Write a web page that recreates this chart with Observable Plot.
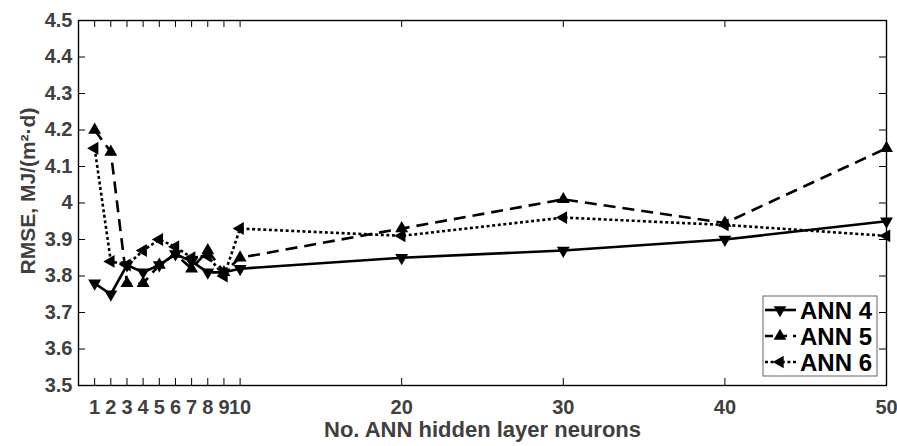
<!DOCTYPE html>
<html>
<head>
<meta charset="utf-8">
<script src="https://cdn.jsdelivr.net/npm/d3@7"></script>
<script src="https://cdn.jsdelivr.net/npm/@observablehq/plot@0.6"></script>
<style>
  html, body { margin: 0; padding: 0; background: #fff; }
  svg { display: block; }
</style>
</head>
<body>
<div id="chart"></div>
<script>
const neurons = [1, 2, 3, 4, 5, 6, 7, 8, 9, 10, 20, 30, 40, 50];
const ann4 = [3.78, 3.75, 3.83, 3.81, 3.83, 3.86, 3.84, 3.81, 3.81, 3.82, 3.85, 3.87, 3.90, 3.95];
const ann5 = [4.20, 4.14, 3.78, 3.78, 3.83, 3.86, 3.82, 3.87, 3.81, 3.85, 3.93, 4.01, 3.945, 4.15];
const ann6 = [4.15, 3.84, 3.83, 3.87, 3.90, 3.88, 3.85, 3.855, 3.80, 3.93, 3.91, 3.96, 3.94, 3.91];
const seriesNames = ["ANN 4", "ANN 5", "ANN 6"];
const xTicks = [1, 2, 3, 4, 5, 6, 7, 8, 9, 10, 20, 30, 40, 50];
const yTicks = [3.5, 3.6, 3.7, 3.8, 3.9, 4, 4.1, 4.2, 4.3, 4.4, 4.5];
const xTitle = "No. ANN hidden layer neurons";
const yTitle = "RMSE, MJ/(m²·d)";

const seriesValues = [ann4, ann5, ann6];
const styles = [
  {dash: null, legendDash: null, rotate: 180},
  {dash: "12,7", legendDash: "8,6", rotate: 0},
  {dash: "3,2.6", legendDash: "3,2.6", rotate: -90}
];
const tables = seriesValues.map((vals, s) => neurons.map((x, i) => ({x, y: vals[i], s: seriesNames[s]})));

const font = "'Liberation Sans', Arial, sans-serif";
const W = 897, H = 446;
const mL = 78, mR = 11, mT = 20, mB = 61;
const fw = W - mL - mR, fh = H - mT - mB;
const tk = 7;

const marks = [];
tables.forEach((t, s) => {
  marks.push(Plot.line(t, {x: "x", y: "y", stroke: "black", strokeWidth: 2.6,
    strokeDasharray: styles[s].dash || undefined, strokeLinecap: "butt"}));
});
tables.forEach((t, s) => {
  marks.push(Plot.dot(t, {x: "x", y: "y", symbol: "triangle", r: 4.8, fill: "black", stroke: "none", rotate: styles[s].rotate}));
});

const svg = Plot.plot({
  width: W, height: H,
  marginLeft: mL, marginRight: mR, marginTop: mT, marginBottom: mB,
  style: {fontFamily: font, background: "white"},
  x: {domain: [0, 50], label: null},
  y: {domain: [3.5, 4.5], label: null},
  marks: [
    Plot.tickX(xTicks, {x: d => d, insetTop: fh - tk, stroke: "black", strokeWidth: 1}),
    Plot.tickX(xTicks, {x: d => d, insetBottom: fh - tk, stroke: "black", strokeWidth: 1}),
    Plot.tickY(yTicks, {y: d => d, insetRight: fw - tk, stroke: "black", strokeWidth: 1}),
    Plot.tickY(yTicks, {y: d => d, insetLeft: fw - tk, stroke: "black", strokeWidth: 1}),
    Plot.axisX(xTicks, {tickSize: 0, tickPadding: 14, fontSize: 20, fontWeight: "bold", fill: "#404040", label: null}),
    Plot.axisY(yTicks, {tickSize: 0, tickPadding: 6, fontSize: 20, fontWeight: "bold", fill: "#404040", label: null,
      tickFormat: d => d === 4 ? "4" : d.toFixed(1)}),
    Plot.text([xTitle], {text: d => d, frameAnchor: "bottom", dy: 51, fontSize: 22, fontWeight: "bold", fill: "#404040"}),
    Plot.text([yTitle], {text: d => d, frameAnchor: "left", textAnchor: "middle", dx: -50, dy: -12, rotate: -90,
      fontSize: 21, fontWeight: "bold", fill: "#404040"}),
    ...marks,
    Plot.frame({stroke: "black", strokeWidth: 1.4})
  ]
});

// legend inside the plot area (lower right)
const s = d3.select(svg);
const lg = s.append("g");
const lx = 763, lw = 114, rowH = 26, lastRow = 362, boxBottom = 376;
const firstRow = lastRow - rowH * (seriesNames.length - 1);
const ly = firstRow - 14;
lg.append("rect").attr("x", lx).attr("y", ly).attr("width", lw).attr("height", boxBottom - ly)
  .attr("fill", "white").attr("stroke", "#666").attr("stroke-width", 1);
seriesNames.forEach((name, i) => {
  const cy = firstRow + i * rowH;
  const ln = lg.append("line").attr("x1", lx + 2).attr("x2", lx + 33).attr("y1", cy).attr("y2", cy)
    .attr("stroke", "black").attr("stroke-width", 2.6);
  if (styles[i].legendDash) ln.attr("stroke-dasharray", styles[i].legendDash);
  lg.append("path").attr("d", d3.symbol(d3.symbolTriangle, 70)())
    .attr("transform", `translate(${lx + 17},${cy}) rotate(${styles[i].rotate})`).attr("fill", "black");
  lg.append("text").attr("x", lx + 37).attr("y", cy).attr("dy", "0.36em")
    .attr("text-anchor", "start")
    .attr("font-family", font).attr("font-size", 24).attr("font-weight", "bold").attr("fill", "black")
    .text(name);
});

document.getElementById("chart").appendChild(svg);
</script>
</body>
</html>
